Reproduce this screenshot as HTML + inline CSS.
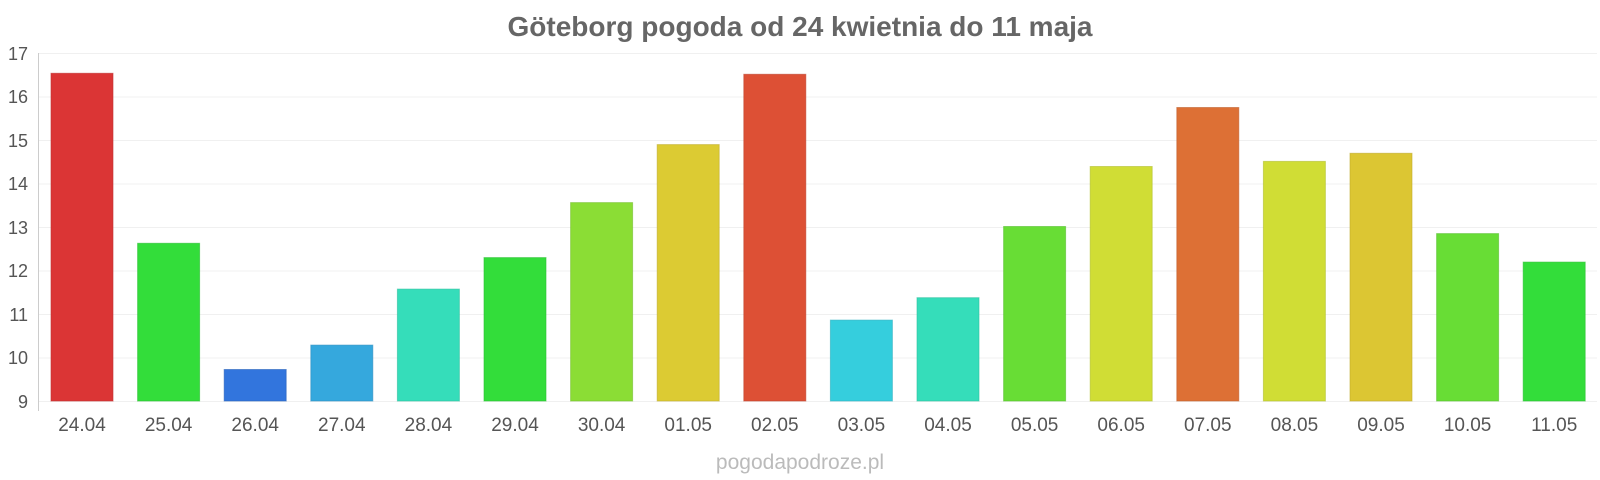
<!DOCTYPE html>
<html><head><meta charset="utf-8"><style>
html,body{margin:0;padding:0;background:#fff;}
svg{display:block;font-family:"Liberation Sans",sans-serif;}
</style></head><body>
<svg width="1600" height="480" viewBox="0 0 1600 480">
<text x="800" y="36" text-anchor="middle" font-size="28" font-weight="bold" fill="#666">Göteborg pogoda od 24 kwietnia do 11 maja</text>
<g stroke="#f0f0f0" stroke-width="1">
<line x1="39" x2="1597" y1="53.5" y2="53.5"/><line x1="39" x2="1597" y1="97" y2="97"/>
<line x1="39" x2="1597" y1="140.5" y2="140.5"/><line x1="39" x2="1597" y1="184" y2="184"/>
<line x1="39" x2="1597" y1="227.5" y2="227.5"/><line x1="39" x2="1597" y1="271" y2="271"/>
<line x1="39" x2="1597" y1="314.5" y2="314.5"/><line x1="39" x2="1597" y1="358" y2="358"/>
<line x1="39" x2="1597" y1="401.5" y2="401.5"/>
</g>
<line x1="38.5" x2="38.5" y1="53" y2="411" stroke="#ccc"/>
<g font-size="18" fill="#555" text-anchor="end">
<text x="28" y="60">17</text><text x="28" y="103">16</text><text x="28" y="147">15</text>
<text x="28" y="190">14</text><text x="28" y="234">13</text><text x="28" y="277">12</text>
<text x="28" y="321">11</text><text x="28" y="364">10</text><text x="28" y="408">9</text>
</g>
<g stroke-width="1" stroke-opacity="0.6">
<rect x="51" y="73.3" width="62" height="327.7" fill="#db3535" stroke="#c03030"/>
<rect x="137.6" y="243.3" width="62" height="157.7" fill="#33dd3a" stroke="#2cbf33"/>
<rect x="224.2" y="369.5" width="62" height="31.5" fill="#3275dd" stroke="#2a62bb"/>
<rect x="310.8" y="345.1" width="62" height="55.9" fill="#35a8dd" stroke="#2e90bf"/>
<rect x="397.4" y="289.1" width="62" height="111.9" fill="#35ddba" stroke="#2ebf9f"/>
<rect x="484" y="257.6" width="62" height="143.4" fill="#33dd3a" stroke="#2cbf33"/>
<rect x="570.6" y="202.6" width="62" height="198.4" fill="#8bdd35" stroke="#77bf2e"/>
<rect x="657.2" y="144.6" width="62" height="256.4" fill="#dccb33" stroke="#bfae2c"/>
<rect x="743.8" y="74.3" width="62" height="326.7" fill="#dd5035" stroke="#bf442e"/>
<rect x="830.4" y="320.1" width="62" height="80.9" fill="#35cedd" stroke="#2eb1bf"/>
<rect x="917" y="297.7" width="62" height="103.3" fill="#35ddba" stroke="#2ebf9f"/>
<rect x="1003.6" y="226.5" width="62" height="174.5" fill="#68dd35" stroke="#59bf2e"/>
<rect x="1090.2" y="166.5" width="62" height="234.5" fill="#d0dd35" stroke="#b3bf2e"/>
<rect x="1176.8" y="107.5" width="62" height="293.5" fill="#dd7035" stroke="#bf602e"/>
<rect x="1263.4" y="161.4" width="62" height="239.6" fill="#d0dd35" stroke="#b3bf2e"/>
<rect x="1350" y="153.3" width="62" height="247.7" fill="#dcc633" stroke="#bfaa2c"/>
<rect x="1436.6" y="233.6" width="62" height="167.4" fill="#68dd35" stroke="#59bf2e"/>
<rect x="1523.2" y="262.1" width="62" height="138.9" fill="#33dd3a" stroke="#2cbf33"/>
</g>
<g font-size="19" fill="#555" text-anchor="middle">
<text x="82" y="431">24.04</text><text x="168.6" y="431">25.04</text><text x="255.2" y="431">26.04</text>
<text x="341.8" y="431">27.04</text><text x="428.4" y="431">28.04</text><text x="515" y="431">29.04</text>
<text x="601.6" y="431">30.04</text><text x="688.2" y="431">01.05</text><text x="774.8" y="431">02.05</text>
<text x="861.4" y="431">03.05</text><text x="948" y="431">04.05</text><text x="1034.6" y="431">05.05</text>
<text x="1121.2" y="431">06.05</text><text x="1207.8" y="431">07.05</text><text x="1294.4" y="431">08.05</text>
<text x="1381" y="431">09.05</text><text x="1467.6" y="431">10.05</text><text x="1554.2" y="431">11.05</text>
</g>
<text x="800" y="469" text-anchor="middle" font-size="21" fill="#bbb">pogodapodroze.pl</text>
</svg>
</body></html>
